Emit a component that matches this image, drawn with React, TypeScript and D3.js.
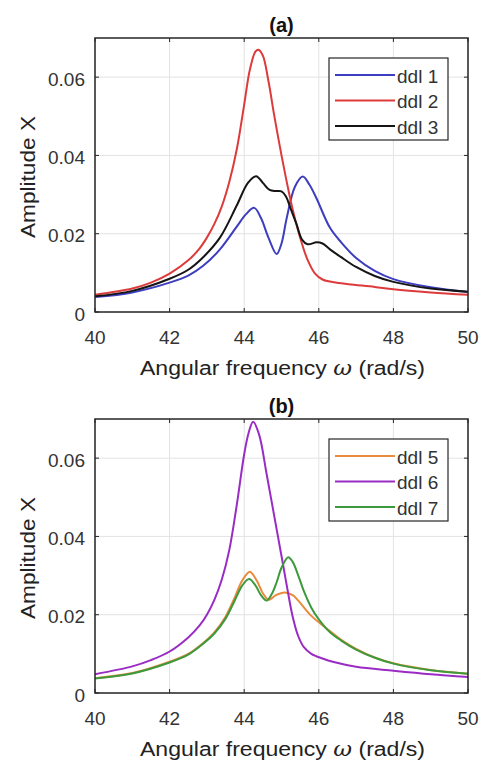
import React from "react";
import * as d3 from "d3";

type Pt = [number, number];

// ---- data (angular frequency ω, amplitude X) ----
const xTicks = [40, 42, 44, 46, 48, 50];
const yTicks = [0, 0.02, 0.04, 0.06];
const yTickLabels = ["0", "0.02", "0.04", "0.06"];

const ddl1: Pt[] = [
  [40, 0.0038], [41, 0.005], [42, 0.0075], [42.5, 0.0093], [42.9, 0.0118], [43.35, 0.016],
  [43.8, 0.0218], [44.05, 0.025], [44.27, 0.0266], [44.45, 0.024], [44.65, 0.019], [44.87, 0.0148],
  [45.0, 0.0175], [45.14, 0.024], [45.36, 0.032], [45.57, 0.0346], [45.75, 0.0325], [45.94, 0.029],
  [46.3, 0.0215], [46.6, 0.0178], [47, 0.0138], [47.5, 0.0105], [48, 0.0084], [49, 0.0063], [50, 0.0051],
];
const ddl2: Pt[] = [
  [40, 0.0044], [41, 0.006], [41.5, 0.0075], [42, 0.0098], [42.5, 0.0132], [42.8, 0.0162], [43.0, 0.019],
  [43.2, 0.0225], [43.4, 0.027], [43.6, 0.0332], [43.8, 0.0415], [44.0, 0.053], [44.15, 0.0618],
  [44.3, 0.0665], [44.38, 0.067], [44.5, 0.0655], [44.65, 0.059], [44.8, 0.0505], [45.0, 0.04],
  [45.15, 0.0328], [45.3, 0.0262], [45.5, 0.019], [45.7, 0.0133], [45.9, 0.0098], [46.1, 0.0083],
  [46.4, 0.0076], [46.8, 0.0071], [47.5, 0.0064], [48, 0.0058], [49, 0.005], [50, 0.0044],
];
const ddl3: Pt[] = [
  [40, 0.004], [41, 0.0054], [42, 0.0085], [42.5, 0.0108], [42.9, 0.014], [43.35, 0.019],
  [43.8, 0.0272], [44.1, 0.033], [44.32, 0.0347], [44.5, 0.033], [44.68, 0.0312], [44.85, 0.0309],
  [45.0, 0.0308], [45.12, 0.0295], [45.23, 0.0268], [45.4, 0.0225], [45.55, 0.0185], [45.7, 0.0173],
  [45.94, 0.0178], [46.1, 0.0175], [46.3, 0.016], [46.6, 0.014], [47, 0.0115], [47.5, 0.0092],
  [48, 0.0077], [49, 0.006], [50, 0.0052],
];
const ddl5: Pt[] = [
  [40, 0.0038], [41, 0.0051], [42, 0.008], [42.5, 0.01], [42.9, 0.0128], [43.2, 0.0155],
  [43.5, 0.0195], [43.75, 0.0245], [43.95, 0.0288], [44.15, 0.031], [44.35, 0.0285], [44.5, 0.0255],
  [44.66, 0.0238], [44.85, 0.025], [45.09, 0.0257], [45.3, 0.025], [45.45, 0.0236], [45.8, 0.0197],
  [46.3, 0.0158], [46.6, 0.0136], [47, 0.0113], [47.5, 0.0091], [48, 0.0076], [49, 0.0059], [50, 0.0049],
];
const ddl6: Pt[] = [
  [40, 0.0048], [41, 0.0068], [41.5, 0.0084], [42, 0.0106], [42.5, 0.0142], [42.8, 0.0172], [43.0, 0.02],
  [43.2, 0.0238], [43.4, 0.029], [43.6, 0.0365], [43.8, 0.048], [44.0, 0.061], [44.12, 0.0665],
  [44.24, 0.0693], [44.4, 0.066], [44.6, 0.056], [44.8, 0.0455], [45.0, 0.035], [45.15, 0.027],
  [45.3, 0.0195], [45.45, 0.0145], [45.6, 0.0117], [45.8, 0.01], [46.1, 0.0088], [46.4, 0.0079],
  [47, 0.0067], [48, 0.0057], [49, 0.0048], [50, 0.0041],
];
const ddl7: Pt[] = [
  [40, 0.0037], [41, 0.005], [42, 0.0078], [42.5, 0.0098], [42.9, 0.0126], [43.2, 0.0152],
  [43.5, 0.019], [43.75, 0.0237], [43.95, 0.0275], [44.13, 0.0291], [44.3, 0.0275], [44.45, 0.025],
  [44.6, 0.0236], [44.75, 0.0255], [44.87, 0.0283], [45.0, 0.032], [45.18, 0.0347], [45.3, 0.0335],
  [45.45, 0.03], [45.6, 0.026], [45.8, 0.0218], [46.0, 0.0188], [46.3, 0.0155], [46.6, 0.0134],
  [47, 0.0111], [47.5, 0.009], [48, 0.0075], [49, 0.0058], [50, 0.0049],
];

const panelA = [
  { name: "ddl 1", data: ddl1, color: "#3d3dbf" },
  { name: "ddl 2", data: ddl2, color: "#dd3b3b" },
  { name: "ddl 3", data: ddl3, color: "#151515" },
];
const panelB = [
  { name: "ddl 5", data: ddl5, color: "#e98a3e" },
  { name: "ddl 6", data: ddl6, color: "#9a2cc4" },
  { name: "ddl 7", data: ddl7, color: "#3c9a3c" },
];

const FONT = "'Liberation Sans', Arial, Helvetica, sans-serif";

function Panel({ top, title, series }: { top: number; title: string; series: typeof panelA }) {
  const left = 95, right = 468, h = 274;
  const bottom = top + h;
  const x = d3.scaleLinear().domain([40, 50]).range([left, right]);
  const y = d3.scaleLinear().domain([0, 0.07]).range([bottom, top]);
  const line = d3.line<Pt>().x((d) => x(d[0])).y((d) => y(d[1])).curve(d3.curveCatmullRom.alpha(0.5));
  const tl = 4;
  const legX = 329, legY = top + 20, legW = 119, legH = 82;
  return (
    <g>
      <text x={(left + right) / 2} y={top - 6} textAnchor="middle" fontFamily={FONT} fontWeight="bold" fontSize={20} fill="#111">
        {title}
      </text>
      {/* grid */}
      {xTicks.map((t) => (
        <line key={"gx" + t} x1={x(t)} x2={x(t)} y1={top} y2={bottom} stroke="#e3e3e3" strokeWidth={1} />
      ))}
      {yTicks.map((t) => (
        <line key={"gy" + t} x1={left} x2={right} y1={y(t)} y2={y(t)} stroke="#e3e3e3" strokeWidth={1} />
      ))}
      {/* series */}
      <g>
        {series.map((s) => (
          <path key={s.name} d={line(s.data) || ""} fill="none" stroke={s.color} strokeWidth={2} strokeLinejoin="round" />
        ))}
      </g>
      {/* ticks inside */}
      {xTicks.map((t) => (
        <g key={"tx" + t}>
          <line x1={x(t)} x2={x(t)} y1={bottom} y2={bottom - tl} stroke="#262626" />
          <line x1={x(t)} x2={x(t)} y1={top} y2={top + tl} stroke="#262626" />
          <text x={x(t)} y={bottom + 25} textAnchor="middle" dominantBaseline="central" fontFamily={FONT} fontSize={19} fill="#333">
            {t}
          </text>
        </g>
      ))}
      {yTicks.map((t, i) => (
        <g key={"ty" + t}>
          <line x1={left} x2={left + tl} y1={y(t)} y2={y(t)} stroke="#262626" />
          <line x1={right} x2={right - tl} y1={y(t)} y2={y(t)} stroke="#262626" />
          <text x={left - 10} y={y(t) + 2} textAnchor="end" dominantBaseline="central" fontFamily={FONT} fontSize={19} fill="#333">
            {yTickLabels[i]}
          </text>
        </g>
      ))}
      <rect x={left} y={top} width={right - left} height={h} fill="none" stroke="#262626" strokeWidth={1.5} />
      {/* axis labels */}
      <text x={(left + right) / 2 + 1} y={bottom + 56} textAnchor="middle" dominantBaseline="central" fontFamily={FONT} fontSize={20} fill="#222" textLength={285} lengthAdjust="spacingAndGlyphs">
        Angular frequency <tspan fontFamily="'DejaVu Serif', serif" fontStyle="italic">ω</tspan> (rad/s)
      </text>
      <text transform={`translate(28,${(top + bottom) / 2 + 2}) rotate(-90)`} textAnchor="middle" dominantBaseline="central" fontFamily={FONT} fontSize={20} fill="#222" textLength={122} lengthAdjust="spacingAndGlyphs">
        Amplitude X
      </text>
      {/* legend */}
      <rect x={legX} y={legY} width={legW} height={legH} fill="#fff" stroke="#262626" strokeWidth={1.2} />
      {series.map((s, i) => {
        const ry = legY + 17 + i * 25.5;
        return (
          <g key={"lg" + s.name}>
            <line x1={legX + 6} x2={legX + 66} y1={ry} y2={ry} stroke={s.color} strokeWidth={2} />
            <text x={legX + 68} y={ry + 1} dominantBaseline="central" fontFamily={FONT} fontSize={19} fill="#333">
              {s.name}
            </text>
          </g>
        );
      })}
    </g>
  );
}

export default function App() {
  return (
    <svg width={485} height={761} style={{ position: "absolute", left: 0, top: 0, background: "#fff" }}>
      <rect width={485} height={761} fill="#fff" />
      <Panel top={38} title="(a)" series={panelA} />
      <Panel top={419} title="(b)" series={panelB} />
    </svg>
  );
}
